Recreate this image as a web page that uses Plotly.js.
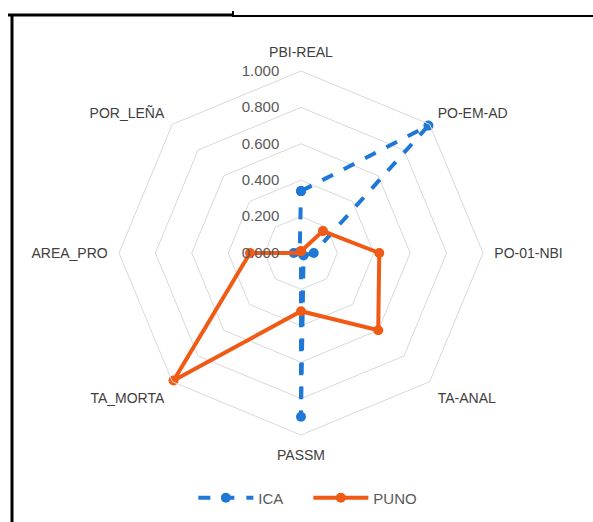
<!DOCTYPE html>
<html>
<head>
<meta charset="utf-8">
<script src="https://cdn.plot.ly/plotly-3.0.1.min.js"></script>
<style>html,body{margin:0;padding:0;background:#fff;}#chart{width:593px;height:522px;}</style>
</head>
<body>
<div id="chart"></div>
<script>
const categories = ["PBI-REAL", "PO-EM-AD", "PO-01-NBI", "TA-ANAL", "PASSM", "TA_MORTA", "AREA_PRO", "POR_LEÑA"];
const icaValues = [0.34, 0.99, 0.07, 0.02, 0.90, 0.00, 0.04, 0.01];
const punoValues = [0.01, 0.17, 0.43, 0.60, 0.32, 0.99, 0.28, 0.00];
const radialTicks = [0, 0.2, 0.4, 0.6, 0.8, 1.0];

function closed(a) { return a.concat([a[0]]); }

const W = 593, H = 522;
const cx = 301, cy = 253, R = 182;

const traces = [
  {
    type: "scatterpolar", name: "ICA",
    r: closed(icaValues), theta: closed(categories),
    mode: "lines+markers",
    line: {color: "#1f78d6", width: 4, dash: "dash"},
    marker: {color: "#1f78d6", size: 10}
  },
  {
    type: "scatterpolar", name: "PUNO",
    r: closed(punoValues), theta: closed(categories),
    mode: "lines+markers",
    line: {color: "#f05a14", width: 4},
    marker: {color: "#f05a14", size: 10}
  }
];

const layout = {
  width: W, height: H,
  margin: {l: 0, r: 0, t: 0, b: 0},
  paper_bgcolor: "#ffffff",
  font: {family: "Liberation Sans, Arial, sans-serif", size: 14, color: "#595959"},
  showlegend: true,
  legend: {orientation: "h", x: 0.52, xanchor: "center", y: 0.046, yanchor: "middle",
           itemwidth: 55, entrywidth: 45, entrywidthmode: "pixels",
           font: {size: 15, color: "#595959"}},
  polar: {
    domain: {x: [(cx - R) / W, (cx + R) / W], y: [(H - cy - R) / H, (H - cy + R) / H]},
    gridshape: "linear",
    bgcolor: "#ffffff",
    angularaxis: {
      direction: "clockwise", rotation: 90,
      categoryorder: "array", categoryarray: categories,
      showgrid: false, showline: true, linecolor: "#d9d9d9", linewidth: 1,
      ticks: "outside", ticklen: 8, tickcolor: "rgba(0,0,0,0)",
      tickfont: {size: 14, color: "#404040"}
    },
    radialaxis: {
      range: [0, 1], angle: 90, side: "counterclockwise", tickangle: 90,
      tickvals: radialTicks, tickformat: ".3f",
      showline: false, ticks: "outside", ticklen: 16, tickcolor: "rgba(0,0,0,0)",
      gridcolor: "#d9d9d9", gridwidth: 1,
      tickfont: {size: 15, color: "#595959"}
    }
  },
  shapes: [
    {type: "line", xref: "paper", yref: "paper", x0: 12 / W, x1: 12 / W, y0: 0, y1: 1 - 15 / H,
     line: {color: "#000000", width: 3}},
    {type: "line", xref: "paper", yref: "paper", x0: 8 / W, x1: 232 / W, y0: 1 - 15 / H, y1: 1 - 15 / H,
     line: {color: "#000000", width: 3}},
    {type: "line", xref: "paper", yref: "paper", x0: 232 / W, x1: 1, y0: 1 - 16 / H, y1: 1 - 16 / H,
     line: {color: "#000000", width: 2}},
    {type: "line", xref: "paper", yref: "paper", x0: 233 / W, x1: 233 / W, y0: 1 - 11 / H, y1: 1 - 16 / H,
     line: {color: "#000000", width: 2}}
  ]
};

Plotly.newPlot("chart", traces, layout, {displayModeBar: false, staticPlot: true});
</script>
</body>
</html>
